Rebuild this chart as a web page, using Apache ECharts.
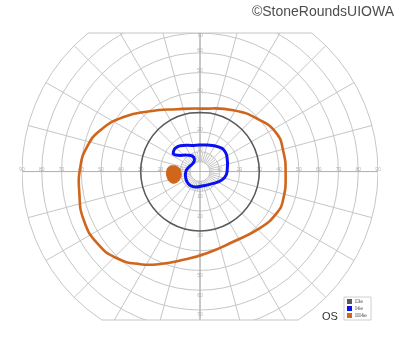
<!DOCTYPE html>
<html><head><meta charset="utf-8">
<script src="https://cdn.jsdelivr.net/npm/echarts@6/dist/echarts.min.js"></script>
<style>html,body{margin:0;padding:0;background:#fff}#c{width:400px;height:352px}</style>
</head><body><div id="c"></div>
<script>
// Grid definition (degrees of eccentricity)
const ringRadii = [5, 10, 20, 30, 40, 50, 60, 70, 80, 90];
const meridians = [0, 15, 30, 45, 60, 75, 90, 105, 120, 135, 150, 165, 180, 195, 210, 225, 240, 255, 270, 285, 300, 315, 330, 345];
const innerMeridians = [7.5, 22.5, 37.5, 52.5, 67.5, 82.5, 97.5, 112.5, 127.5, 142.5, 157.5, 172.5, 187.5, 202.5, 217.5, 232.5, 247.5, 262.5, 277.5, 292.5, 307.5, 322.5, 337.5, 352.5];
const fieldTop = 70;     // upper limit of chart (deg)
const fieldBottom = 75;  // lower limit of chart (deg)
const fieldSide = 90;
// tick labels
const hTicks = [10, 20, 30, 40, 50, 60, 70, 80, 90];
const vTicksUp = [10, 20, 30, 40, 50, 60, 70];
const vTicksDown = [10, 20, 30, 40, 50, 60, 70];

// Isopters: [x deg (right +), y deg (up +)]
const i3eAngles = [0, 15, 30, 45, 60, 75, 90, 105, 120, 135, 150, 165, 180, 195, 210, 225, 240, 255, 270, 285, 300, 315, 330, 345];
const i3eRadii = [30, 30, 30, 30, 30, 30, 29.7, 30, 30, 30, 30, 30, 30, 30, 30, 30, 30, 30, 30, 30, 30, 30, 30, 30];
const i4ePoints = [[-13.4,10],[-12.6,11.7],[-10,13],[-3.3,13.2],[3.4,13.4],[9.3,12.5],[12.7,10],[13.8,5.8],[13.8,1.6],[13.2,-1.8],[11,-4.3],[6.8,-6],[1.7,-7.2],[-3.3,-7.7],[-5.8,-6.3],[-7.2,-3.4],[-7.2,-0.1],[-5.8,2.1],[-3.6,4.1],[-2.8,6.1],[-3.8,7.8],[-6.7,8.3],[-10.9,8.2],[-13.4,8.8]];
const iii4ePoints = [[0,31.8],[16.8,31],[30.3,26],[38.7,19.3],[42,10.8],[43.3,-0.9],[42,-14.4],[38.7,-21.1],[30.3,-28.6],[16.8,-35.4],[3.4,-41.3],[-8.4,-44.6],[-20.1,-46.7],[-30.2,-46.8],[-42,-43.8],[-52,-36.2],[-58.8,-24.5],[-61,-11],[-60.5,2.4],[-57.1,12.5],[-50.4,20.9],[-38.6,27.6],[-25.2,30.5],[-11.7,31.5]];
const blindSpotPoints = [[-14.2,2.9],[-11.4,2.4],[-9.7,-0.1],[-10,-3.4],[-12.1,-5.6],[-14.7,-5.5],[-16.7,-2.6],[-16.7,0.8],[-15.7,2.4]];

const seriesNames = ['I3e', 'I4e', 'III4e'];
const seriesColors = ['#5a5a5a', '#0a10f0', '#d0661c'];

const i3ePoints = i3eAngles.map((a, i) => [i3eRadii[i] * Math.cos(a * Math.PI / 180), i3eRadii[i] * Math.sin(a * Math.PI / 180)]);

const gridColor = '#c6c6c6';
const axisColor = '#b4b4b4';

function polygonSeries(name, pts, color, width, fill) {
  return {
    type: 'custom', name: name, coordinateSystem: 'cartesian2d', silent: true, z: 5,
    itemStyle: { color: color },
    data: pts,
    renderItem: function (params, api) {
      if (params.dataIndex !== 0) return null;
      const p = pts.map(q => api.coord(q));
      return { type: 'polygon', shape: { points: p, smooth: 0.5 },
        style: { fill: fill ? color : 'none', stroke: color, lineWidth: width } };
    }
  };
}

const ringSeries = {
  type: 'custom', clip: true, silent: true, z: 1,
  data: ringRadii.map(r => [r, 0]),
  renderItem: function (params, api) {
    const c = api.coord([0, 0]);
    const r = api.size([api.value(0), 0])[0];
    return { type: 'circle', shape: { cx: c[0], cy: c[1], r: r },
      style: { fill: 'none', stroke: gridColor, lineWidth: 1 } };
  }
};
function radialSeries(angles, r0, r1, color) {
  return {
    type: 'custom', clip: true, silent: true, z: 1,
    data: angles.map(a => [a, 0]),
    renderItem: function (params, api) {
      const a = api.value(0) * Math.PI / 180;
      const p0 = api.coord([r0 * Math.cos(a), r0 * Math.sin(a)]);
      const p1 = api.coord([r1 * Math.cos(a), r1 * Math.sin(a)]);
      const isAxis = (api.value(0) % 90 === 0);
      return { type: 'line', shape: { x1: p0[0], y1: p0[1], x2: p1[0], y2: p1[1] },
        style: { stroke: isAxis ? axisColor : color, lineWidth: 1 } };
    }
  };
}
const topHalf = Math.sqrt(fieldSide * fieldSide - fieldTop * fieldTop);
const botHalf = Math.sqrt(fieldSide * fieldSide - fieldBottom * fieldBottom);
const chordSeries = {
  type: 'line', silent: true, clip: false, symbol: 'none', z: 2,
  lineStyle: { color: gridColor, width: 1.2 },
  data: [[-topHalf, fieldTop], [topHalf, fieldTop]]
};
const chordSeries2 = {
  type: 'line', silent: true, clip: false, symbol: 'none', z: 2,
  lineStyle: { color: gridColor, width: 1.2 },
  data: [[-botHalf, -fieldBottom], [botHalf, -fieldBottom]]
};
const axesSeries = radialSeries([0, 90, 180, 270], 0, 90, axisColor);

const labelStyle = { show: true, fontSize: 5, color: '#a0a0a0', fontFamily: 'Liberation Sans' };
const hLabelData = hTicks.map(t => [-t, 0]).concat(hTicks.map(t => [t, 0]));
const hLabels = {
  type: 'scatter', silent: true, clip: false, symbolSize: 0, z: 3,
  data: hLabelData,
  label: Object.assign({ position: 'inside', offset: [0, -2], formatter: p => String(Math.abs(p.value[0])) }, labelStyle)
};
const vLabels = {
  type: 'scatter', silent: true, clip: false, symbolSize: 0, z: 3,
  data: vTicksUp.map(t => ({ value: [0, t], label: { offset: [0, t === fieldTop ? 3 : -2] } }))
    .concat(vTicksDown.map(t => ({ value: [0, -t], label: { offset: [0, 5] } }))),
  label: Object.assign({ position: 'inside', formatter: p => String(Math.abs(p.value[1])) }, labelStyle)
};

const chart = echarts.init(document.getElementById('c'), null, { renderer: 'canvas' });
chart.setOption({
  animation: false,
  backgroundColor: '#fff',
  title: { text: '©StoneRoundsUIOWA', right: 1, top: 0,
    textStyle: { fontSize: 14, fontWeight: 'normal', color: '#4d4d4d', fontFamily: 'Liberation Sans' } },
  grid: { left: 22, top: 33, width: 356, height: 287 },
  xAxis: { type: 'value', min: -90, max: 90, show: false },
  yAxis: { type: 'value', min: -fieldBottom, max: fieldTop, show: false },
  legend: {
    data: seriesNames, orient: 'vertical', left: 344, top: 297, icon: 'rect',
    itemWidth: 5, itemHeight: 5, itemGap: 2, padding: [2, 4, 2, 3],
    borderColor: '#cfcfcf', borderWidth: 1, backgroundColor: '#fff',
    textStyle: { fontSize: 5, color: '#333', fontFamily: 'DejaVu Serif', padding: [0, 0, 0, -2] },
    selectedMode: false
  },
  graphic: [{ type: 'text', left: 322, top: 311, style: { text: 'OS', fontSize: 11, fill: '#333', fontFamily: 'Liberation Sans' } }],
  series: [
    ringSeries,
    radialSeries(meridians, 5, 90, gridColor),
    radialSeries(innerMeridians, 5, 10, gridColor),
    axesSeries,
    chordSeries, chordSeries2,
    hLabels, vLabels,
    polygonSeries(seriesNames[0], i3ePoints, seriesColors[0], 1.5, false),
    polygonSeries(seriesNames[1], i4ePoints, seriesColors[1], 3, false),
    polygonSeries(seriesNames[2], iii4ePoints, seriesColors[2], 2.6, false),
    polygonSeries(seriesNames[2], blindSpotPoints, seriesColors[2], 1, true)
  ]
});
</script></body></html>
